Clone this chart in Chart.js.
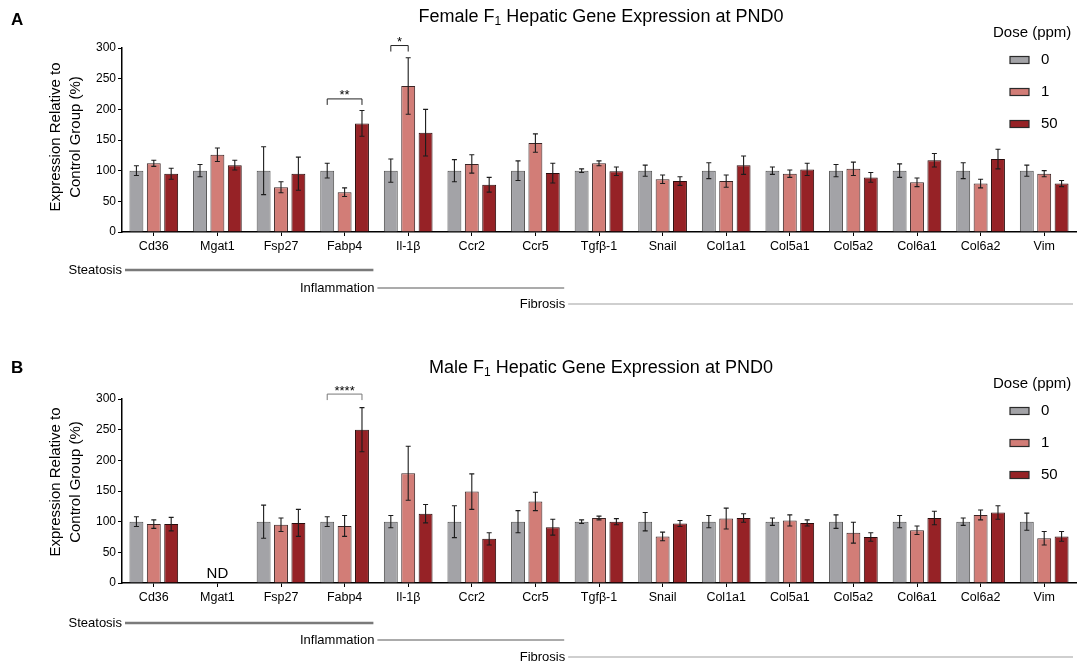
<!DOCTYPE html>
<html>
<head>
<meta charset="utf-8">
<title>F1 Hepatic Gene Expression at PND0</title>
<script src="https://cdn.jsdelivr.net/npm/chart.js@4.4.0/dist/chart.umd.min.js"></script>
<style>
  html, body { margin: 0; padding: 0; background: #fff; }
  .panel { position: absolute; left: 0; width: 1077px; }
  #panelA { top: 0; height: 332px; }
  #panelB { top: 332px; height: 333px; }
</style>
</head>
<body>
<div class="panel" id="panelA"><canvas id="chartA" width="1077" height="332"></canvas></div>
<div class="panel" id="panelB"><canvas id="chartB" width="1077" height="333"></canvas></div>

<script>
/* ---- Dados ---- */
const genes = ['Cd36', 'Mgat1', 'Fsp27', 'Fabp4', 'Il-1β', 'Ccr2', 'Ccr5', 'Tgfβ-1', 'Snail',
               'Col1a1', 'Col5a1', 'Col5a2', 'Col6a1', 'Col6a2', 'Vim'];
const doses = ['0', '1', '50'];

// Fêmeas (média e erro padrão, % do controle)
const femaleDose0  = [100, 100, 100, 100, 100, 100, 100, 100, 100, 100, 100, 100, 100, 100, 100];
const femaleErr0   = [8, 10, 39, 12, 19, 18, 16, 3, 9, 13, 6, 10, 11, 13, 9];
const femaleDose1  = [112, 126, 73, 65, 238, 111, 145, 112, 86, 83, 95, 103, 81, 79, 95];
const femaleErr1   = [5, 11, 9, 7, 46, 15, 15, 4, 7, 10, 6, 11, 7, 7, 5];
const femaleDose50 = [95, 109, 95, 177, 162, 77, 96, 99, 83, 109, 102, 89, 117, 119, 79];
const femaleErr50  = [9, 8, 27, 21, 38, 12, 16, 7, 7, 15, 10, 8, 11, 16, 5];

// Machos (Mgat1 não detectado)
const maleDose0  = [100, null, 100, 100, 100, 100, 100, 100, 100, 100, 100, 100, 100, 100, 100];
const maleErr0   = [8, null, 27, 8, 10, 26, 18, 3, 15, 10, 6, 11, 10, 6, 14];
const maleDose1  = [96, null, 95, 93, 179, 149, 133, 106, 76, 105, 102, 82, 86, 111, 73];
const maleErr1   = [7, null, 11, 17, 44, 29, 15, 3, 7, 17, 9, 17, 7, 8, 11];
const maleDose50 = [96, null, 98, 250, 113, 72, 91, 100, 97, 106, 98, 75, 106, 115, 76];
const maleErr50  = [11, null, 22, 36, 15, 10, 13, 5, 5, 7, 5, 7, 11, 11, 8];

// Grupos de genes (índices inclusivos)
const geneGroups = [
  { name: 'Steatosis',    first: 0, last: 3,  color: '#7a7a7a', width: 2.5 },
  { name: 'Inflammation', first: 4, last: 6,  color: '#ababab', width: 2.2 },
  { name: 'Fibrosis',     first: 7, last: 14, color: '#cfcfcf', width: 2.2 }
];

// Significância: gene, barras comparadas, altura do colchete (valor no eixo)
const femaleSig = [
  { gene: 3, from: 0, to: 2, at: 217, label: '**' },
  { gene: 4, from: 0, to: 1, at: 304, label: '*' }
];
const maleSig = [
  { gene: 3, from: 0, to: 2, at: 308, label: '****' }
];

const FONT = '"Liberation Sans", Arial, Helvetica, sans-serif';
const fills   = ['#a3a3a7', '#d27d77', '#962226'];
const borders = ['#505050', '#3a2424', '#2a0c0c'];

Chart.defaults.color = '#000';
Chart.defaults.font.family = FONT;

/* ---- Helpers de desenho ---- */
function drawTitle(ctx, cx, cy, pre, sub, post) {
  ctx.font = `18px ${FONT}`;
  const w1 = ctx.measureText(pre).width;
  const w3 = ctx.measureText(post).width;
  ctx.font = `12px ${FONT}`;
  const w2 = ctx.measureText(sub).width;
  let x = cx - (w1 + w2 + w3) / 2;
  ctx.textAlign = 'left';
  ctx.textBaseline = 'middle';
  ctx.font = `18px ${FONT}`;
  ctx.fillText(pre, x, cy);
  x += w1;
  ctx.font = `12px ${FONT}`;
  ctx.fillText(sub, x, cy + 5);
  x += w2;
  ctx.font = `18px ${FONT}`;
  ctx.fillText(post, x, cy);
}

const decorPlugin = {
  id: 'panelDecor',

  // barras de erro (média ± EP)
  afterDatasetsDraw(chart) {
    const ctx = chart.ctx;
    const ys = chart.scales.y;
    chart.data.datasets.forEach((ds, di) => {
      const meta = chart.getDatasetMeta(di);
      meta.data.forEach((bar, i) => {
        const m = ds.data[i], e = ds.errors[i];
        if (m == null || e == null) return;
        const yTop = ys.getPixelForValue(m + e);
        const yBot = ys.getPixelForValue(m - e);
        ctx.save();
        ctx.strokeStyle = '#1c1c1c';
        ctx.lineWidth = 1.1;
        ctx.beginPath();
        ctx.moveTo(bar.x, yTop); ctx.lineTo(bar.x, yBot);
        ctx.moveTo(bar.x - 2.5, yTop); ctx.lineTo(bar.x + 2.5, yTop);
        ctx.moveTo(bar.x - 2.5, yBot); ctx.lineTo(bar.x + 2.5, yBot);
        ctx.stroke();
        ctx.restore();
      });
    });
  },

  afterDraw(chart, args, opts) {
    const ctx = chart.ctx;
    const area = chart.chartArea;
    const xs = chart.scales.x;
    const ys = chart.scales.y;
    const catW = (area.right - area.left) / genes.length;

    ctx.save();
    ctx.fillStyle = '#000';

    // letra do painel
    ctx.font = `bold 17px ${FONT}`;
    ctx.textAlign = 'left';
    ctx.textBaseline = 'middle';
    ctx.fillText(opts.letter, 11, opts.letterY);

    // título
    drawTitle(ctx, 601, area.top - 31, opts.titlePre, '1', ' Hepatic Gene Expression at PND0');

    // título do eixo y (duas linhas)
    ctx.save();
    ctx.font = `15px ${FONT}`;
    ctx.textAlign = 'center';
    ctx.textBaseline = 'middle';
    ctx.translate(0, opts.yTitleY);
    ctx.rotate(-Math.PI / 2);
    ctx.fillText('Expression Relative to', 0, 56);
    ctx.fillText('Control Group (%)', 0, 76);
    ctx.restore();

    // legenda
    ctx.font = `15px ${FONT}`;
    ctx.textAlign = 'left';
    ctx.textBaseline = 'middle';
    ctx.fillText('Dose (ppm)', 993, area.top - 15);
    chart.data.datasets.forEach((ds, i) => {
      const cy = area.top + 12 + i * 32;
      ctx.fillStyle = ds.backgroundColor;
      ctx.fillRect(1010, cy - 3.5, 19, 7);
      ctx.strokeStyle = '#2a2a2a';
      ctx.lineWidth = 1.2;
      ctx.strokeRect(1010, cy - 3.5, 19, 7);
      ctx.fillStyle = '#000';
      ctx.fillText(ds.label, 1041, cy);
    });

    // colchetes de significância
    opts.sig.forEach(s => {
      const x1 = chart.getDatasetMeta(s.from).data[s.gene].x;
      const x2 = chart.getDatasetMeta(s.to).data[s.gene].x;
      const yb = ys.getPixelForValue(s.at);
      ctx.strokeStyle = opts.sigColor;
      ctx.lineWidth = 1;
      ctx.beginPath();
      ctx.moveTo(x1, yb + 6); ctx.lineTo(x1, yb); ctx.lineTo(x2, yb); ctx.lineTo(x2, yb + 6);
      ctx.stroke();
      ctx.fillStyle = '#000';
      ctx.font = `13px ${FONT}`;
      ctx.textAlign = 'center';
      ctx.textBaseline = 'middle';
      ctx.fillText(s.label, (x1 + x2) / 2, yb - 3);
    });

    // "ND" para genes não detectados
    ctx.fillStyle = '#000';
    ctx.font = `15px ${FONT}`;
    ctx.textAlign = 'center';
    ctx.textBaseline = 'middle';
    genes.forEach((g, i) => {
      if (chart.data.datasets.every(ds => ds.data[i] == null)) {
        ctx.fillText('ND', xs.getPixelForValue(i), area.bottom - 9);
      }
    });

    // linhas dos grupos
    geneGroups.forEach((grp, gi) => {
      const y = area.bottom + opts.groupOffsets[gi];
      const x0 = area.left + grp.first * catW + (gi === 0 ? 3 : 1);
      const x1 = Math.min(area.left + (grp.last + 1) * catW - 3, area.right - 1);
      ctx.strokeStyle = grp.color;
      ctx.lineWidth = grp.width;
      ctx.beginPath();
      ctx.moveTo(x0, y); ctx.lineTo(x1, y);
      ctx.stroke();
      ctx.fillStyle = '#000';
      ctx.font = `13px ${FONT}`;
      ctx.textAlign = 'right';
      ctx.textBaseline = 'middle';
      ctx.fillText(grp.name, x0 - 3, y);
    });

    ctx.restore();
  }
};

/* ---- Gráfico ---- */
function makeChart(canvasId, means, errs, padTop, padBottom, decor) {
  const ctx = document.getElementById(canvasId).getContext('2d');
  return new Chart(ctx, {
    type: 'bar',
    data: {
      labels: genes,
      datasets: doses.map((d, i) => ({
        label: d,
        data: means[i],
        errors: errs[i],
        backgroundColor: fills[i],
        borderColor: borders[i],
        borderWidth: 1,
        categoryPercentage: 0.82,
        barPercentage: 0.8
      }))
    },
    options: {
      responsive: false,
      animation: false,
      layout: { padding: { top: padTop, bottom: padBottom, left: 0, right: 1 } },
      plugins: {
        legend: { display: false },
        tooltip: { enabled: false },
        panelDecor: decor
      },
      scales: {
        x: {
          grid: { display: true, drawOnChartArea: false, drawTicks: true, tickLength: 4, color: '#000', offset: false },
          border: { display: true, color: '#000', width: 1.5 },
          ticks: { font: { size: 12.5 }, color: '#000', padding: 3, maxRotation: 0, autoSkip: false },
          afterFit(s) { s.height = 30; }
        },
        y: {
          min: 0,
          max: 300,
          grid: { display: true, drawOnChartArea: false, drawTicks: true, tickLength: 4, color: '#000' },
          border: { display: true, color: '#000', width: 1.5 },
          ticks: {
            stepSize: 25,
            font: { size: 12 },
            color: '#000',
            padding: 2,
            callback: v => (v % 50 === 0 ? v : '')
          },
          afterFit(s) { s.width = 122; }
        }
      }
    },
    plugins: [decorPlugin]
  });
}

makeChart('chartA',
  [femaleDose0, femaleDose1, femaleDose50],
  [femaleErr0, femaleErr1, femaleErr50],
  48, 70,
  { letter: 'A', letterY: 20, titlePre: 'Female F', yTitleY: 137, sig: femaleSig, sigColor: '#222',
    groupOffsets: [38, 56, 72] });

makeChart('chartB',
  [maleDose0, maleDose1, maleDose50],
  [maleErr0, maleErr1, maleErr50],
  67, 52,
  { letter: 'B', letterY: 36, titlePre: 'Male F', yTitleY: 150, sig: maleSig, sigColor: '#777',
    groupOffsets: [40, 57, 74] });
</script>
</body>
</html>
